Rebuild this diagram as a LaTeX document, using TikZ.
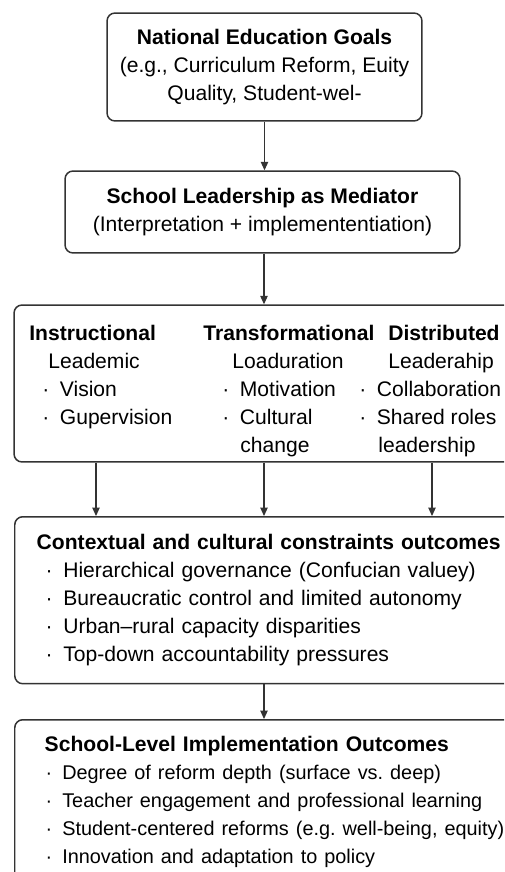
\documentclass[tikz,border=0pt]{standalone}
\usepackage{fontspec}
\setmainfont{Liberation Sans}
\usetikzlibrary{arrows.meta}

\tikzstyle{box}=[draw=black!80, line width=0.85pt, rounded corners=1.6mm, inner sep=0pt]
\tikzstyle{flow}=[black!80, line width=0.6pt, -{Triangle[length=1.7mm, width=1.5mm]}]
\tikzstyle{column}=[anchor=north west, align=left, inner sep=0pt]
\tikzstyle{listbox}=[box, anchor=north west, minimum width=12cm, align=left]
\newcommand{\bul}{·\hspace{0.5em}}

\begin{document}
\frenchspacing
\begin{tikzpicture}[x=0.02cm, y=-0.02cm, font=\fontsize{12}{15.9}\selectfont]
  \useasboundingbox (0,0) rectangle (504,872);
  \clip (0,0) rectangle (504,872);

  \node[box, minimum width=6.3cm, minimum height=2.16cm, align=center] (goals) at (264.5,67)
    {\textbf{National Education Goals}\\(e.g., Curriculum Reform, Euity\\Quality, Student-wel-};
  \node[box, minimum width=7.9cm, minimum height=1.64cm, align=center] (mediator) at (262.5,212)
    {\textbf{School Leadership as Mediator}\\(Interpretation + implemententiation)};

  % leadership styles, three columns in one box
  \node[box, minimum width=10.02cm, minimum height=3.14cm] (styles) at (264.5,383.5) {};
  \node[column] (instr) at (29,325) {\textbf{Instructional}\\
    \hspace*{0.38cm}Leademic\\
    \hspace*{0.26cm}\bul Vision\\
    \hspace*{0.26cm}\bul Gupervision};
  \node[column] (transf) at (203,325) {\textbf{Transformational}\\
    \hspace*{0.58cm}Loaduration\\
    \hspace*{0.38cm}\bul Motivation\\
    \hspace*{0.38cm}\bul Cultural\\
    \hspace*{0.74cm}change};
  \node[column] (distr) at (359,325) {\hspace*{0.58cm}\textbf{Distributed}\\
    \hspace*{0.58cm}Leaderahip\\
    \bul Collaboration\\
    \bul Shared roles\\
    \hspace*{0.38cm}leadership};

  \node[listbox, minimum height=3.34cm, inner xsep=0.44cm, text width=11.12cm] (context) at (14,516)
    {\textbf{Contextual and cultural constraints outcomes}\\
    \hspace*{0.18cm}\bul Hierarchical governance (Confucian valuey)\\
    \hspace*{0.18cm}\bul Bureaucratic control and limited autonomy\\
    \hspace*{0.18cm}\bul Urban--rural capacity disparities\\
    \hspace*{0.18cm}\bul Top-down accountability pressures};
  % the outcome lines run close to the edge, set a little tighter
  \node[listbox, minimum height=3.28cm, inner xsep=0.6cm, text width=10.8cm] (outcomes) at (14,719)
    {\textbf{School-Level Implementation Outcomes}\\
    \fontsize{11.3}{15.9}\selectfont
    \hspace*{0.02cm}\bul Degree of reform depth (surface vs. deep)\\
    \hspace*{0.02cm}\bul Teacher engagement and professional learning\\
    \hspace*{0.02cm}\bul Student-centered reforms (e.g. well-being, equity)\\
    \hspace*{0.02cm}\bul Innovation and adaptation to policy};

  \foreach \x [count=\i] in {96,264,432}
    \coordinate (tap\i) at (\x,0);

  \draw[flow] (goals.south) -- (goals.south |- mediator.north);
  \draw[flow] (mediator.south -| tap2) -- (styles.north -| tap2);
  \foreach \i in {1,2,3}
    \draw[flow] (styles.south -| tap\i) -- (context.north -| tap\i);
  \draw[flow] (context.south -| tap2) -- (outcomes.north -| tap2);
\end{tikzpicture}
\end{document}
